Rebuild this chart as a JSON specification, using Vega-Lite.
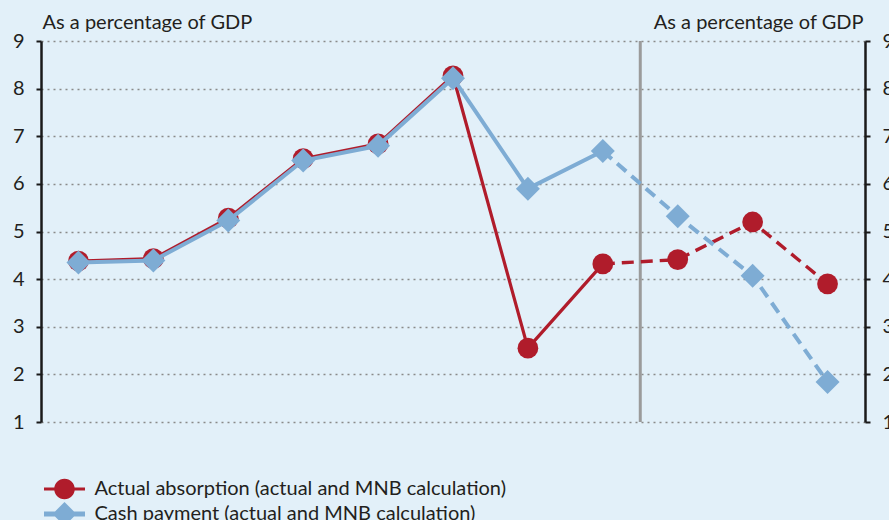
{
  "$schema": "https://vega.github.io/schema/vega-lite/v6.json",
  "width": 824,
  "height": 381,
  "autosize": {"type": "none"},
  "padding": {"left": 41, "top": 41, "right": 24, "bottom": 98},
  "background": "#e2f0f9",
  "config": {
    "view": {"stroke": null},
    "font": "Lato",
    "axis": {
      "labelFont": "Lato",
      "labelFontSize": 20,
      "labelColor": "#231f20",
      "titleFont": "Lato",
      "titleFontSize": 20,
      "titleFontWeight": "normal",
      "titleColor": "#231f20",
      "domainColor": "#1a1a1a",
      "domainWidth": 2.5,
      "tickColor": "#1a1a1a",
      "tickWidth": 2,
      "tickSize": 5
    }
  },
  "datasets": {
    "main": [
      {"year": "2010", "series": "Actual absorption (actual and MNB calculation)", "value": 4.38},
      {"year": "2011", "series": "Actual absorption (actual and MNB calculation)", "value": 4.43},
      {"year": "2012", "series": "Actual absorption (actual and MNB calculation)", "value": 5.28},
      {"year": "2013", "series": "Actual absorption (actual and MNB calculation)", "value": 6.53},
      {"year": "2014", "series": "Actual absorption (actual and MNB calculation)", "value": 6.84},
      {"year": "2015", "series": "Actual absorption (actual and MNB calculation)", "value": 8.27},
      {"year": "2016", "series": "Actual absorption (actual and MNB calculation)", "value": 2.55},
      {"year": "2017", "series": "Actual absorption (actual and MNB calculation)", "value": 4.32},
      {"year": "2018", "series": "Actual absorption (actual and MNB calculation)", "value": 4.41},
      {"year": "2019", "series": "Actual absorption (actual and MNB calculation)", "value": 5.2},
      {"year": "2020", "series": "Actual absorption (actual and MNB calculation)", "value": 3.9},
      {"year": "2010", "series": "Cash payment (actual and MNB calculation)", "value": 4.35},
      {"year": "2011", "series": "Cash payment (actual and MNB calculation)", "value": 4.39},
      {"year": "2012", "series": "Cash payment (actual and MNB calculation)", "value": 5.23},
      {"year": "2013", "series": "Cash payment (actual and MNB calculation)", "value": 6.49},
      {"year": "2014", "series": "Cash payment (actual and MNB calculation)", "value": 6.8},
      {"year": "2015", "series": "Cash payment (actual and MNB calculation)", "value": 8.22},
      {"year": "2016", "series": "Cash payment (actual and MNB calculation)", "value": 5.9},
      {"year": "2017", "series": "Cash payment (actual and MNB calculation)", "value": 6.69},
      {"year": "2018", "series": "Cash payment (actual and MNB calculation)", "value": 5.32},
      {"year": "2019", "series": "Cash payment (actual and MNB calculation)", "value": 4.07},
      {"year": "2020", "series": "Cash payment (actual and MNB calculation)", "value": 1.84}
    ],
    "divider": [{"year": "2018"}]
  },
  "data": {"name": "main"},
  "encoding": {
    "x": {
      "field": "year",
      "type": "ordinal",
      "scale": {"type": "band", "paddingInner": 0, "paddingOuter": 0, "domain": ["2010","2011","2012","2013","2014","2015","2016","2017","2018","2019","2020"]},
      "axis": {"title": null, "labelAngle": 0, "tickBand": "extent", "labelPadding": 12, "grid": false}
    }
  },
  "layer": [
    {
      "data": {"name": "divider"},
      "mark": {"type": "rule", "color": "#9b9b9b", "strokeWidth": 3},
      "encoding": {
        "x": {"field": "year", "type": "ordinal", "bandPosition": 0, "axis": null}
      }
    },
    {
      "transform": [{"filter": "datum.series === 'Actual absorption (actual and MNB calculation)' && toNumber(datum.year) <= 2017"}],
      "mark": {"type": "line", "color": "#b01c2b", "strokeWidth": 3.2},
      "encoding": {
        "y": {
          "field": "value", "type": "quantitative",
          "scale": {"domain": [1, 9], "nice": false, "zero": false},
          "axis": {
            "orient": "left", "values": [1,2,3,4,5,6,7,8,9], "labelPadding": 12,
            "grid": true, "gridDash": [2, 4], "gridColor": "#8a8a8a", "gridWidth": 1.5,
            "title": "As a percentage of GDP", "titleAngle": 0, "titleX": 1, "titleY": -13,
            "titleAlign": "left", "titleBaseline": "alphabetic"
          }
        }
      }
    },
    {
      "transform": [{"filter": "datum.series === 'Actual absorption (actual and MNB calculation)' && toNumber(datum.year) >= 2017"}],
      "mark": {"type": "line", "color": "#b01c2b", "strokeWidth": 3.4, "strokeDash": [12, 7]},
      "encoding": {"y": {"field": "value", "type": "quantitative", "axis": null}}
    },
    {
      "transform": [{"filter": "datum.series === 'Actual absorption (actual and MNB calculation)'"}],
      "mark": {"type": "point", "filled": true, "shape": "circle", "size": 430, "opacity": 1, "strokeWidth": 0, "color": "#b01c2b"},
      "encoding": {
        "y": {"field": "value", "type": "quantitative", "axis": null}
      }
    },
    {
      "transform": [{"filter": "datum.series === 'Cash payment (actual and MNB calculation)' && toNumber(datum.year) <= 2017"}],
      "mark": {"type": "line", "color": "#7eacd4", "strokeWidth": 4},
      "encoding": {"y": {"field": "value", "type": "quantitative", "axis": null}}
    },
    {
      "transform": [{"filter": "datum.series === 'Cash payment (actual and MNB calculation)' && toNumber(datum.year) >= 2017"}],
      "mark": {"type": "line", "color": "#7eacd4", "strokeWidth": 4, "strokeDash": [12, 7]},
      "encoding": {"y": {"field": "value", "type": "quantitative", "axis": null}}
    },
    {
      "transform": [{"filter": "datum.series === 'Cash payment (actual and MNB calculation)'"}],
      "mark": {"type": "point", "filled": true, "shape": "diamond", "size": 576, "opacity": 1, "strokeWidth": 0, "color": "#7eacd4"},
      "encoding": {
        "y": {
          "field": "value", "type": "quantitative",
          "axis": {
            "orient": "right", "values": [1,2,3,4,5,6,7,8,9], "labelPadding": 12, "grid": false,
            "title": "As a percentage of GDP", "titleAngle": 0, "titleX": -2, "titleY": -13,
            "titleAlign": "right", "titleBaseline": "alphabetic"
          }
        }
      }
    },
    {
      "mark": {"type": "point", "filled": true, "opacity": 0, "size": 400, "strokeWidth": 0},
      "encoding": {
        "y": {"field": "value", "type": "quantitative", "axis": null},
        "color": {
          "field": "series", "type": "nominal",
          "scale": {"domain": ["Actual absorption (actual and MNB calculation)", "Cash payment (actual and MNB calculation)"], "range": ["#b01c2b", "#7eacd4"]},
          "legend": {
            "orient": "none", "legendX": 13.5, "legendY": 438, "title": null, "direction": "vertical",
            "symbolSize": 400, "symbolOpacity": 1, "symbolStrokeWidth": 0, "symbolFillColor": null,
            "labelFont": "Lato", "labelFontSize": 20, "labelColor": "#231f20", "labelOffset": 20, "rowPadding": 2, "labelLimit": 0
          }
        },
        "shape": {
          "field": "series", "type": "nominal",
          "scale": {"domain": ["Actual absorption (actual and MNB calculation)", "Cash payment (actual and MNB calculation)"], "range": [
            "M-2.05,-0.16L-0.8,-0.16L-0.8,0.16L-2.05,0.16Z M0.8,-0.16L2.05,-0.16L2.05,0.16L0.8,0.16Z M1.03,0A1.03,1.03,0,1,1,-1.03,0A1.03,1.03,0,1,1,1.03,0Z",
            "M-2.05,-0.25L2.05,-0.25L2.05,0.25L-2.05,0.25Z M-1.2,0L0,-1.2L1.2,0L0,1.2Z"
          ]},
          "legend": {
            "orient": "none", "legendX": 13.5, "legendY": 438, "title": null, "direction": "vertical",
            "symbolSize": 400, "symbolOpacity": 1, "symbolStrokeWidth": 0,
            "labelFont": "Lato", "labelFontSize": 20, "labelColor": "#231f20", "labelOffset": 20, "rowPadding": 2, "labelLimit": 0
          }
        }
      }
    }
  ],
  "resolve": {"axis": {"y": "independent"}}
}
